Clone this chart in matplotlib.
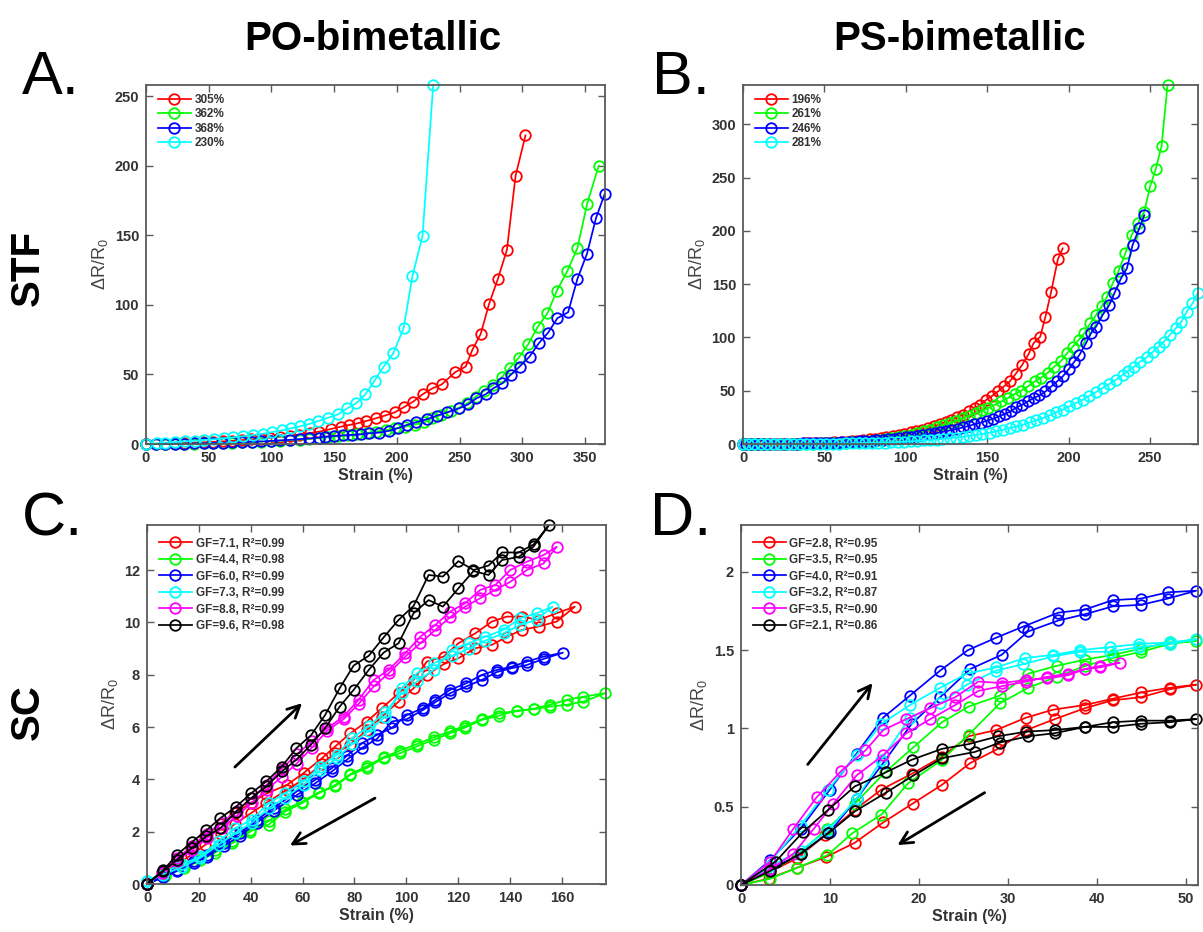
import matplotlib
matplotlib.use('Agg')
import matplotlib.pyplot as plt
from matplotlib.ticker import FuncFormatter

plt.rcParams['font.family'] = ['Liberation Sans', 'DejaVu Sans']
plt.rcParams['mathtext.fontset'] = 'custom'
plt.rcParams['mathtext.rm'] = 'Liberation Sans'
plt.rcParams['mathtext.it'] = 'Liberation Sans:italic'
plt.rcParams['mathtext.bf'] = 'Liberation Sans:bold'

RED, GREEN, BLUE, CYAN, MAGENTA, BLACK = '#ff0000', '#00ff00', '#0000ff', '#00ffff', '#ff00ff', '#000000'

# ---------------- A: STF, PO-bimetallic ----------------
a_labels = ['305%', '362%', '368%', '230%']

a_red_x = [0, 7.6, 15.2, 22.9, 30.5, 38.1, 45.8, 53.4, 61, 68.7, 76.3, 84, 91.6, 99.2, 106.9, 114.5,
           122.1, 130.5, 138.3, 147.6, 155.6, 162.2, 168.8, 175.4, 183.4, 190.5, 198.5, 205.9, 213.1,
           220.5, 228.4, 235.9, 246.5, 254.9, 260.2, 266.9, 273.5, 280.6, 287.8, 294.7, 302.6]
a_red_y = [0, 0.1, 0.2, 0.4, 0.6, 0.9, 1.2, 1.5, 1.9, 2.3, 2.8, 3.3, 3.9, 4.5, 5.2, 6, 6.8, 7.8, 8.9,
           10.8, 12.5, 13.7, 14.9, 16.5, 18.5, 20.4, 22.8, 26.6, 30.5, 35.7, 40, 42.9, 51.6, 55.6,
           67.6, 79.1, 100.5, 118.7, 139.6, 192.8, 221.8]

a_green_x = [0, 7.7, 15.3, 23, 30.6, 38.3, 45.9, 53.6, 61.2, 68.9, 76.5, 84.2, 91.8, 99.5, 107.1,
             114.8, 122.4, 130.1, 137.7, 145.4, 153, 160.7, 168.3, 176, 183.6, 191.3, 198.9, 206.6,
             214.2, 221.9, 227.9, 235, 243, 249.6, 256.3, 262.9, 269.5, 276.7, 284.1, 289.9, 297.3,
             304.8, 312.2, 320.1, 327.5, 335.8, 344, 351.7, 361]
a_green_y = [0, 0, 0.1, 0.1, 0.2, 0.3, 0.4, 0.5, 0.7, 0.9, 1.1, 1.4, 1.7, 2.0, 2.4, 2.8, 3.2, 3.7,
             4.2, 4.8, 5.5, 6.2, 7.0, 7.9, 8.9, 10.0, 11.2, 12.5, 14.0, 15.6, 18.5, 20.9, 23.7, 26.1,
             29.3, 34, 38.1, 42.4, 48.4, 54.4, 62.1, 71.7, 84, 94, 110, 124, 140.8, 172.4, 200]

a_blue_x = [0, 7.7, 15.3, 23, 30.6, 38.3, 45.9, 53.6, 61.2, 68.9, 76.5, 84.2, 91.8, 99.5, 107.1,
            114.8, 122.4, 130.1, 137.7, 143.1, 150.3, 156.9, 164.3, 171.2, 178, 186, 193.5, 200.6,
            208, 215.2, 223.7, 231.9, 240.4, 249.6, 257, 263.4, 270.8, 276.9, 284.1, 290.7, 297.9,
            305.8, 313.2, 320.7, 328, 336.6, 344, 351.7, 358.8, 365.7]
a_blue_y = [0, 0, 0.1, 0.2, 0.3, 0.4, 0.5, 0.7, 0.9, 1.1, 1.3, 1.6, 1.9, 2.2, 2.6, 3.0, 3.5, 4.0,
            4.6, 5.3, 5.8, 6.2, 6.5, 6.9, 7.7, 8.2, 9.4, 11.3, 13.7, 15.6, 17.7, 20.4, 22.8, 25.6,
            28.5, 32.8, 35.7, 40, 43.6, 49.6, 55.6, 62.8, 72.4, 80.1, 90.4, 94.7, 118.7, 136.9,
            162.3, 179.6]

a_cyan_x = [0, 8.5, 15.1, 23.1, 31, 39, 46.4, 54.1, 62, 69.4, 77.4, 85.3, 93.3, 100.7, 108.4, 115.8,
            123, 129.9, 137.5, 145.5, 153.2, 160.6, 167.5, 174.9, 182.3, 189.5, 197.2, 205.4, 212.5,
            220.5, 229]
a_cyan_y = [0, 0.5, 1.0, 1.4, 1.9, 2.4, 2.9, 3.4, 4.1, 4.8, 5.5, 6.5, 7.4, 8.6, 9.8, 11.3, 12.7,
            14.4, 16.5, 19, 21.3, 25.7, 29.2, 35.7, 45.6, 55.6, 65.2, 83.2, 120.9, 149.6, 258]

# ---------------- B: STF, PS-bimetallic ----------------
b_labels = ['196%', '261%', '246%', '281%']

b_red_x = [0, 3, 6, 9, 13, 16, 20, 24, 27, 31, 34, 38, 42, 45, 49, 52, 56, 60, 63, 67, 70, 74, 78,
           81, 85, 88, 92, 96, 99, 103, 106, 110, 113.7, 117.2, 120.9, 124.6, 128, 131.5, 135.2,
           138.7, 142.3, 145.8, 149.5, 153.2, 156.6, 160.3, 163.8, 167.4, 171.5, 175.4, 178.5,
           182.6, 185.8, 189.3, 193.4, 196.4]
b_red_y = [0, 0, 0, 0, 0, 0.1, 0.1, 0.2, 0.2, 0.3, 0.4, 0.6, 0.7, 0.9, 1.1, 1.3, 1.6, 1.9, 2.3,
           2.7, 3.2, 3.8, 4.4, 5.0, 5.8, 6.6, 7.5, 8.5, 9.6, 10.8, 12.1, 13.5, 15, 16.5, 18.7, 20.6,
           22.8, 25.3, 27.5, 30.6, 33.7, 36.8, 41.5, 45.3, 49.3, 54, 58.7, 65.6, 74.3, 84.3, 94.6,
           100.8, 119.6, 143, 173.3, 183.6]

b_green_x = [0, 3, 7, 11, 15, 19, 23, 27, 31, 35, 39, 43, 47, 51, 55, 59, 63, 67, 71, 75, 79, 83,
             87, 91, 95, 99, 103, 107, 111, 115, 119, 123, 127, 131, 135, 139, 143, 147, 150.5,
             154.6, 158.7, 162.7, 166.8, 170.9, 175, 179.1, 183.2, 187.3, 191.3, 195.4, 199.1,
             202.6, 206.2, 209.7, 213.4, 216.9, 220.5, 223.6, 227.1, 230.7, 234.8, 238.7, 242.5,
             246.5, 250.1, 253.6, 257.1, 260.8]
b_green_y = [0, 0, 0, 0, 0, 0, 0.1, 0.1, 0.2, 0.2, 0.3, 0.4, 0.5, 0.7, 0.9, 1.1, 1.4, 1.7, 2.1,
             2.6, 3.2, 3.8, 4.6, 5.5, 6.5, 7.6, 8.9, 10.3, 11.9, 13.6, 15.5, 17.5, 19.6, 21.8, 24,
             26.5, 29, 31.5, 33.7, 36.8, 40, 43.1, 46.8, 50, 54, 58.7, 62.4, 67.1, 72.7, 78, 85.2,
             91.5, 97.7, 104, 113.3, 121.1, 129.6, 138.3, 150.8, 162.3, 178.9, 196, 207, 218, 242,
             258.5, 279.4, 337]

b_blue_x = [0, 2, 5, 9, 12, 16, 19, 23, 26, 30, 33, 37, 40, 44, 47, 51, 54, 58, 61, 65, 68, 72, 75,
            79, 82, 86, 89, 93, 96, 100, 103, 107, 110, 114, 118, 121, 125, 128, 132, 135, 139, 142,
            146, 149.9, 153.6, 157.2, 160.7, 164.4, 167.9, 171.5, 175, 178.5, 182.1, 185.8, 189.3,
            192.9, 196.4, 200.1, 203.6, 206.7, 210.7, 213.8, 216.9, 220.9, 225, 228.1, 232.2,
            235.8, 239.3, 243.4, 246.5]
b_blue_y = [0, 0, 0, 0, 0, 0.1, 0.1, 0.2, 0.2, 0.3, 0.4, 0.5, 0.6, 0.7, 0.8, 1.0, 1.2, 1.4, 1.6,
            1.9, 2.2, 2.5, 2.8, 3.2, 3.6, 4.0, 4.5, 5.0, 5.6, 6.2, 6.8, 7.5, 8.3, 9.1, 10.0, 10.9,
            12.0, 13.1, 14.3, 15.6, 17.0, 18.5, 20.0, 21.9, 23.7, 25.9, 28.1, 30.6, 34.3, 36.8, 40,
            43.1, 45.6, 49.3, 54, 58.7, 63.4, 70.2, 77.4, 83.7, 94.6, 104, 110.2, 121.1, 130.5,
            141.4, 155.5, 164.8, 186.7, 202.3, 214.8]

b_cyan_x = [0, 3, 7, 11, 15, 19, 23, 27, 31, 35, 39, 43, 47, 51, 55, 59, 63, 67, 71, 75, 79, 83,
            87, 91, 95, 99, 103, 107, 111, 115, 119, 123, 127, 131, 135, 139, 143, 147, 151.5,
            155.6, 159.7, 163.8, 167.9, 171.9, 176, 180.1, 184.2, 188.3, 192.4, 196.4, 200.5,
            204.6, 208.7, 212.8, 216.9, 220.9, 225, 229.1, 233.2, 236.7, 240.4, 244, 247.9, 251.6,
            255.3, 258.7, 262.2, 265.9, 269.3, 272.6, 276.1, 279.2]
b_cyan_y = [0, 0, 0, 0, 0, 0, 0, 0, 0.1, 0.1, 0.1, 0.2, 0.2, 0.3, 0.3, 0.4, 0.5, 0.6, 0.7, 0.9,
            1.0, 1.2, 1.4, 1.6, 1.9, 2.2, 2.5, 2.9, 3.3, 3.7, 4.2, 4.8, 5.4, 6.1, 6.8, 7.6, 8.5,
            9.5, 10.6, 11.9, 13.4, 15, 16.5, 18.1, 20.3, 22.2, 24.4, 26.9, 29.7, 32.2, 35.3, 38.4,
            41.5, 45.3, 48.7, 52.5, 56.2, 60.3, 64.9, 68.7, 72.7, 77.4, 81.2, 86.2, 91.5, 96.2,
            102.4, 108.6, 114.9, 124.3, 132, 141.4]

# ---------------- C: SC, PO-bimetallic (loading then unloading) ----------------
c_labels = ['GF=7.1, R²=0.99', 'GF=4.4, R²=0.98', 'GF=6.0, R²=0.99',
            'GF=7.3, R²=0.99', 'GF=8.8, R²=0.99', 'GF=9.6, R²=0.98']

c_red_x = [0, 6, 11.5, 17, 22.5, 28.5, 34, 40, 46, 54, 60.4, 67.5, 72.6, 78.4, 84.8, 90.6, 97,
           102.8, 107.9, 114.4, 120.1, 126.6, 133, 138.8, 144.6, 151, 158, 165,
           158, 151, 144.6, 138.8, 133, 126.6, 120.1, 114.4, 107.9, 102.8, 97, 90.6, 84.8, 78.4,
           72.6, 67.5, 60.4, 54, 46, 40, 34, 28.5, 22.5, 17, 11.5, 6, 0]
c_red_y = [0, 0.5, 0.95, 1.4, 1.85, 2.3, 2.7, 3.1, 3.45, 3.79, 4.24, 4.81, 5.26, 5.76, 6.21, 6.72,
           7.29, 7.8, 8.5, 8.69, 9.2, 9.58, 10.03, 10.22, 10.22, 10.09, 10.35, 10.6,
           10.03, 9.84, 9.71, 9.45, 9.14, 9.01, 8.63, 8.4, 7.99, 7.48, 6.97, 6.4, 5.89, 5.32, 5.0,
           4.6, 4.0, 3.6, 3.1, 2.7, 2.3, 1.9, 1.5, 1.1, 0.75, 0.4, 0]

c_green_x = [0, 7.1, 14.1, 20.6, 26.3, 32.8, 39.8, 46.9, 53.3, 59.8, 66.2, 72.6, 78.4, 84.8, 91.2,
             97.7, 104.1, 110.5, 116.9, 122.7, 129.1, 135.6, 142.6, 149.1, 155.5, 161.9, 168.3,
             176.7,
             168.3, 161.9, 155.5, 149.1, 142.6, 135.6, 129.1, 122.7, 116.9, 110.5, 104.1, 97.7,
             91.2, 84.8, 78.4, 72.6, 66.2, 59.8, 53.3, 46.9, 39.8, 32.8, 26.3, 20.6, 14.1, 7.1, 0]
c_green_y = [0, 0.36, 0.67, 0.99, 1.31, 1.63, 2.07, 2.27, 2.77, 3.09, 3.47, 3.79, 4.17, 4.43, 4.81,
             5.0, 5.26, 5.51, 5.76, 5.98, 6.27, 6.43, 6.63, 6.68, 6.78, 6.85, 6.97, 7.29,
             7.16, 7.04, 6.85, 6.7, 6.6, 6.53, 6.3, 6.05, 5.83, 5.6, 5.35, 5.1, 4.85, 4.5, 4.2,
             3.73, 3.5, 3.15, 2.85, 2.4, 2.0, 1.55, 1.2, 0.9, 0.6, 0.3, 0]

c_blue_x = [0, 6.2, 11.6, 18, 23.1, 29.6, 36, 42.4, 48.8, 57.8, 64.9, 71.3, 77.1, 82.9, 88.7, 94.4,
            100.2, 106.4, 111.2, 116.9, 123.1, 129.1, 134.9, 140.7, 146.5, 152.9, 160.4,
            152.9, 146.5, 140.7, 134.9, 129.1, 123.1, 116.9, 111.2, 106.4, 100.2, 94.4, 88.7, 82.9,
            77.1, 71.3, 64.9, 57.8, 48.8, 42.4, 36, 29.6, 23.1, 18, 11.6, 6.2, 0]
c_blue_y = [0, 0.29, 0.55, 0.87, 1.12, 1.57, 1.95, 2.46, 2.9, 3.54, 3.98, 4.43, 4.9, 5.38, 5.7,
            5.96, 6.46, 6.72, 7.04, 7.42, 7.67, 7.99, 8.18, 8.31, 8.5, 8.69, 8.84,
            8.6, 8.37, 8.25, 8.1, 7.8, 7.55, 7.29, 6.95, 6.65, 6.3, 6.21, 5.55, 5.2, 4.75, 4.3,
            3.85, 3.4, 2.8, 2.35, 1.85, 1.45, 1.05, 0.8, 0.5, 0.25, 0]

c_cyan_x = [0, 6, 13.5, 20.6, 27.6, 34.1, 40.5, 46.9, 53.3, 60.4, 66.8, 73.2, 79, 85.5, 91.9, 98.3,
            104.1, 110.5, 117.6, 124, 130.4, 137.5, 143.9, 150.3, 156.4,
            150.3, 143.9, 137.5, 130.4, 124, 117.6, 110.5, 104.1, 98.3, 91.9, 85.5, 79, 73.2, 66.8,
            60.4, 53.3, 46.9, 40.5, 34.1, 27.6, 20.6, 13.5, 6, 0]
c_cyan_y = [0.1, 0.45, 0.75, 1.06, 1.63, 2.14, 2.46, 3.09, 3.47, 3.92, 4.49, 4.94, 5.57, 6.02,
            6.59, 7.29, 7.74, 8.18, 8.95, 9.2, 9.45, 9.71, 10.16, 10.35, 10.6,
            10.1, 9.9, 9.58, 9.3, 9.0, 8.7, 8.44, 8.05, 7.5, 6.4, 5.85, 5.35, 4.8, 4.35, 3.8, 3.3,
            2.9, 2.35, 1.95, 1.5, 1.0, 0.65, 0.35, 0.1]

c_magenta_x = [0, 5.8, 11.6, 17.3, 23, 28.8, 34.6, 40.4, 46.2, 52, 57.7, 63.5, 69.4, 75.8, 81.6,
               87.4, 93.2, 99.6, 105.4, 111.2, 116.9, 122.7, 128.5, 134.3, 140.1, 146.5, 152.9,
               158,
               152.9, 146.5, 140.1, 134.3, 128.5, 122.7, 116.9, 111.2, 105.4, 99.6, 93.2, 87.4,
               81.6, 75.8, 69.4, 63.5, 57.7, 52, 46.2, 40.4, 34.6, 28.8, 23, 17.3, 11.6, 5.8, 0]
c_magenta_y = [0, 0.45, 0.98, 1.45, 1.92, 2.35, 2.8, 3.3, 3.8, 4.4, 4.95, 5.45, 5.95, 6.4, 7.04,
               7.8, 8.18, 8.82, 9.45, 9.9, 10.41, 10.73, 11.24, 11.43, 12.0, 12.32, 12.57, 12.89,
               12.25, 12.0, 11.55, 11.24, 10.92, 10.6, 10.2, 9.71, 9.2, 8.69, 8.05, 7.55, 6.88,
               6.3, 5.85, 5.2, 4.6, 4.1, 3.6, 3.1, 2.6, 2.15, 1.75, 1.3, 0.88, 0.42, 0]

c_black_x = [0, 6.2, 11.6, 17.3, 22.9, 28.3, 34.4, 40.2, 46, 52, 57.6, 63.2, 68.7, 74.3, 79.7,
             85.5, 91.2, 97, 102.8, 108.6, 114.1, 120.1, 125.9, 131.7, 136.9, 143.3, 149.1, 155,
             149.1, 143.3, 136.9, 131.7, 125.9, 120.1, 114.1, 108.6, 102.8, 97, 91.2, 85.5, 79.7,
             74.3, 68.7, 63.2, 57.6, 52, 46, 40.2, 34.4, 28.3, 22.9, 17.3, 11.6, 6.2, 0]
c_black_y = [0, 0.52, 1.12, 1.6, 2.05, 2.52, 2.96, 3.47, 3.92, 4.49, 5.19, 5.68, 6.46, 7.48, 8.35,
             8.72, 9.42, 10.09, 10.63, 11.81, 11.75, 12.34, 12.0, 12.17, 12.67, 12.67, 12.98,
             13.72,
             12.9, 12.5, 12.38, 11.81, 11.96, 11.3, 10.6, 10.85, 10.35, 9.2, 8.84, 8.18, 7.42,
             6.78, 5.96, 5.32, 4.75, 4.3, 3.73, 3.28, 2.77, 2.14, 1.82, 1.37, 0.93, 0.48, 0]

# ---------------- D: SC, PS-bimetallic (loading then unloading) ----------------
d_labels = ['GF=2.8, R²=0.95', 'GF=3.5, R²=0.95', 'GF=4.0, R²=0.91',
            'GF=3.2, R²=0.87', 'GF=3.5, R²=0.90', 'GF=2.1, R²=0.86']

d_red_x = [0, 3.1, 6.3, 9.5, 12.8, 15.8, 19.2, 22.6, 25.6, 28.7, 32.1, 35.1, 38.7, 41.8, 45, 48.2,
           51.2,
           48.2, 45, 41.8, 38.7, 35.3, 32.1, 28.9, 25.8, 22.6, 19.3, 16, 12.8, 9.6, 6.3, 3.1, 0]
d_red_y = [0, 0.08, 0.17, 0.32, 0.48, 0.61, 0.71, 0.82, 0.95, 0.99, 1.07, 1.12, 1.15, 1.19, 1.23,
           1.26, 1.28,
           1.25, 1.2, 1.18, 1.13, 1.06, 0.99, 0.87, 0.78, 0.64, 0.52, 0.4, 0.27, 0.18, 0.11, 0.04,
           0]

d_green_x = [0, 3.3, 6.3, 9.7, 12.5, 15.8, 18.8, 22.6, 25.6, 29.1, 32.3, 35.5, 38.7, 41.8, 45,
             48.2, 51.2,
             48.2, 45, 41.8, 38.7, 35.5, 32.3, 29.1, 25.6, 22.6, 19.4, 16.2, 12.8, 9.7, 6.5, 3.3, 0]
d_green_y = [0, 0.04, 0.11, 0.19, 0.33, 0.45, 0.65, 0.8, 0.96, 1.16, 1.26, 1.33, 1.4, 1.45, 1.49,
             1.54, 1.56,
             1.55, 1.51, 1.47, 1.44, 1.4, 1.35, 1.21, 1.14, 1.04, 0.88, 0.72, 0.52, 0.36, 0.2,
             0.08, 0]

d_blue_x = [0, 3.3, 6.7, 10, 13, 16, 19, 22.4, 25.5, 28.7, 31.7, 35.7, 38.7, 41.8, 45, 48, 51.2,
            48, 45, 41.8, 38.7, 35.7, 32.3, 29.3, 25.8, 22.4, 19.2, 16, 13, 10, 6.7, 3.3, 0]
d_blue_y = [0, 0.16, 0.36, 0.61, 0.84, 1.07, 1.21, 1.37, 1.5, 1.58, 1.65, 1.74, 1.76, 1.82, 1.83,
            1.87, 1.88,
            1.83, 1.79, 1.78, 1.73, 1.69, 1.62, 1.47, 1.38, 1.2, 1.03, 0.78, 0.55, 0.34, 0.2, 0.1,
            0]

d_cyan_x = [0, 3.3, 6.7, 9.8, 13, 15.8, 19, 22.4, 25.4, 28.7, 31.9, 35.1, 38.1, 41.5, 44.8, 48.2,
            51.2,
            48.2, 44.8, 41.5, 38.1, 35.1, 31.7, 28.7, 25.4, 22.4, 19, 15.8, 13, 9.8, 6.7, 3.3, 0]
d_cyan_y = [0, 0.15, 0.38, 0.61, 0.83, 1.03, 1.15, 1.26, 1.35, 1.39, 1.45, 1.47, 1.5, 1.52, 1.54,
            1.55, 1.57,
            1.54, 1.52, 1.49, 1.49, 1.46, 1.41, 1.37, 1.28, 1.16, 1.07, 0.8, 0.55, 0.35, 0.22,
            0.12, 0]

d_magenta_x = [0, 3.3, 5.9, 8.5, 11.3, 14, 16, 18.6, 21.3, 24.1, 26.7, 29.3, 32.1, 34.4, 36.8,
               38.7, 40.4, 42.6,
               40.4, 38.7, 36.8, 34.4, 32.1, 29.3, 26.7, 24.1, 21.3, 18.6, 16, 13, 10.4, 8.2,
               5.9, 3.3, 0]
d_magenta_y = [0, 0.15, 0.36, 0.56, 0.73, 0.86, 0.99, 1.06, 1.13, 1.2, 1.3, 1.29, 1.31, 1.32,
               1.34, 1.38, 1.39, 1.42,
               1.4, 1.38, 1.35, 1.33, 1.3, 1.27, 1.24, 1.15, 1.06, 0.97, 0.83, 0.7, 0.52, 0.36,
               0.2, 0.1, 0]

d_black_x = [0, 3.9, 7, 9.8, 12.8, 16.3, 19.2, 22.6, 25.6, 28.9, 32.1, 35.3, 38.7, 41.8, 45, 48.2,
             51.2,
             48.2, 45, 41.8, 38.7, 35.3, 32.3, 29.1, 26.3, 22.6, 19.4, 16.3, 12.8, 9.8, 6.7, 3.3, 0]
d_black_y = [0, 0.15, 0.34, 0.48, 0.63, 0.72, 0.8, 0.87, 0.9, 0.95, 0.98, 0.99, 1.01, 1.04, 1.05,
             1.05, 1.06,
             1.04, 1.03, 1.01, 1.01, 0.97, 0.95, 0.91, 0.85, 0.81, 0.7, 0.59, 0.47, 0.33, 0.2,
             0.09, 0]

# arrows (loading / unloading direction), data coords: (start, end)
c_arrows = [((33.9, 4.47), (59.8, 6.91)), ((87.9, 3.28), (55.1, 1.47))]
d_arrows = [((7.5, 0.77), (14.8, 1.29)), ((27.4, 0.59), (17.6, 0.255))]

AX_COL = '#5a5a5a'
TXT_COL = '#333333'


def fmt(v, pos):
    return '%g' % v


def draw_panel(ax, series, labels, colors, xlim, ylim, xticks, yticks, leg_anchor, leg_space):
    for (x, y), lab, col in zip(series, labels, colors):
        ax.plot(x, y, '-o', color=col, mfc='none', mec=col, ms=7.6, mew=1.3, lw=1.25,
                label=lab, clip_on=False)
    ax.set_xlim(*xlim)
    ax.set_ylim(*ylim)
    ax.set_xticks(xticks)
    ax.set_yticks(yticks)
    ax.xaxis.set_major_formatter(FuncFormatter(fmt))
    ax.yaxis.set_major_formatter(FuncFormatter(fmt))
    ax.tick_params(direction='in', top=True, right=True, length=5, width=1.0,
                   color=AX_COL, labelsize=10.5, labelcolor=TXT_COL, pad=5)
    for lab in ax.get_xticklabels() + ax.get_yticklabels():
        lab.set_fontweight('bold')
    for sp in ax.spines.values():
        sp.set_color(AX_COL)
        sp.set_linewidth(1.3)
    ax.set_xlabel('Strain (%)', fontsize=11.5, fontweight='bold', color=TXT_COL, labelpad=2)
    ax.set_ylabel('ΔR/R$_0$', fontsize=13, color='#444444', labelpad=3)
    leg = ax.legend(loc='upper left', bbox_to_anchor=leg_anchor, frameon=False,
                    prop={'weight': 'bold', 'size': 8.5}, handlelength=2.8,
                    handletextpad=0.3, borderpad=0, borderaxespad=0,
                    labelspacing=leg_space)
    for t in leg.get_texts():
        t.set_color(TXT_COL)


fig = plt.figure(figsize=(12.03, 9.32), dpi=100)
W, H = 1203.0, 932.0


def add_ax(left, top, right, bottom):
    return fig.add_axes([left / W, 1 - bottom / H, (right - left) / W, (bottom - top) / H])


axA = add_ax(146, 85, 605, 444)
axB = add_ax(743, 85, 1198, 444)
axC = add_ax(147, 525, 606, 884)
axD = add_ax(741, 525, 1198, 885)

four = [RED, GREEN, BLUE, CYAN]
six = [RED, GREEN, BLUE, CYAN, MAGENTA, BLACK]

draw_panel(axA, [(a_red_x, a_red_y), (a_green_x, a_green_y), (a_blue_x, a_blue_y),
                 (a_cyan_x, a_cyan_y)], a_labels, four,
           (0, 366), (0, 258), range(0, 351, 50), range(0, 251, 50), (0.026, 0.975), 0.2)
draw_panel(axB, [(b_red_x, b_red_y), (b_green_x, b_green_y), (b_blue_x, b_blue_y),
                 (b_cyan_x, b_cyan_y)], b_labels, four,
           (0, 279.5), (0, 337), range(0, 251, 50), range(0, 301, 50), (0.026, 0.975), 0.2)
draw_panel(axC, [(c_red_x, c_red_y), (c_green_x, c_green_y), (c_blue_x, c_blue_y),
                 (c_cyan_x, c_cyan_y), (c_magenta_x, c_magenta_y), (c_black_x, c_black_y)],
           c_labels, six, (0, 177), (0, 13.72), range(0, 161, 20), range(0, 13, 2),
           (0.026, 0.965), 0.38)
draw_panel(axD, [(d_red_x, d_red_y), (d_green_x, d_green_y), (d_blue_x, d_blue_y),
                 (d_cyan_x, d_cyan_y), (d_magenta_x, d_magenta_y), (d_black_x, d_black_y)],
           d_labels, six, (0, 51.4), (0, 2.3), range(0, 51, 10), [0, 0.5, 1, 1.5, 2],
           (0.026, 0.965), 0.38)

for ax, arrows in ((axC, c_arrows), (axD, d_arrows)):
    for start, end in arrows:
        ax.annotate('', xy=end, xytext=start,
                    arrowprops=dict(arrowstyle='->', lw=2.0, color='black', mutation_scale=22,
                                    shrinkA=0, shrinkB=0))

# column / row headers and panel letters
fig.text(373 / W, 1 - 50 / H, 'PO-bimetallic', ha='center', va='baseline', fontsize=29,
         fontweight='bold')
fig.text(960 / W, 1 - 50 / H, 'PS-bimetallic', ha='center', va='baseline', fontsize=29,
         fontweight='bold')
fig.text(28 / W, 1 - 268 / H, 'STF', ha='center', va='center', rotation=90, fontsize=29,
         fontweight='bold')
fig.text(28 / W, 1 - 712 / H, 'SC', ha='center', va='center', rotation=90, fontsize=29,
         fontweight='bold')
for lx, ly, letter in ((22, 94, 'A.'), (652, 94, 'B.'), (22, 535, 'C.'), (650, 535, 'D.')):
    fig.text(lx / W, 1 - ly / H, letter, ha='left', va='baseline', fontsize=44)

fig.savefig('out.png', dpi=100)
